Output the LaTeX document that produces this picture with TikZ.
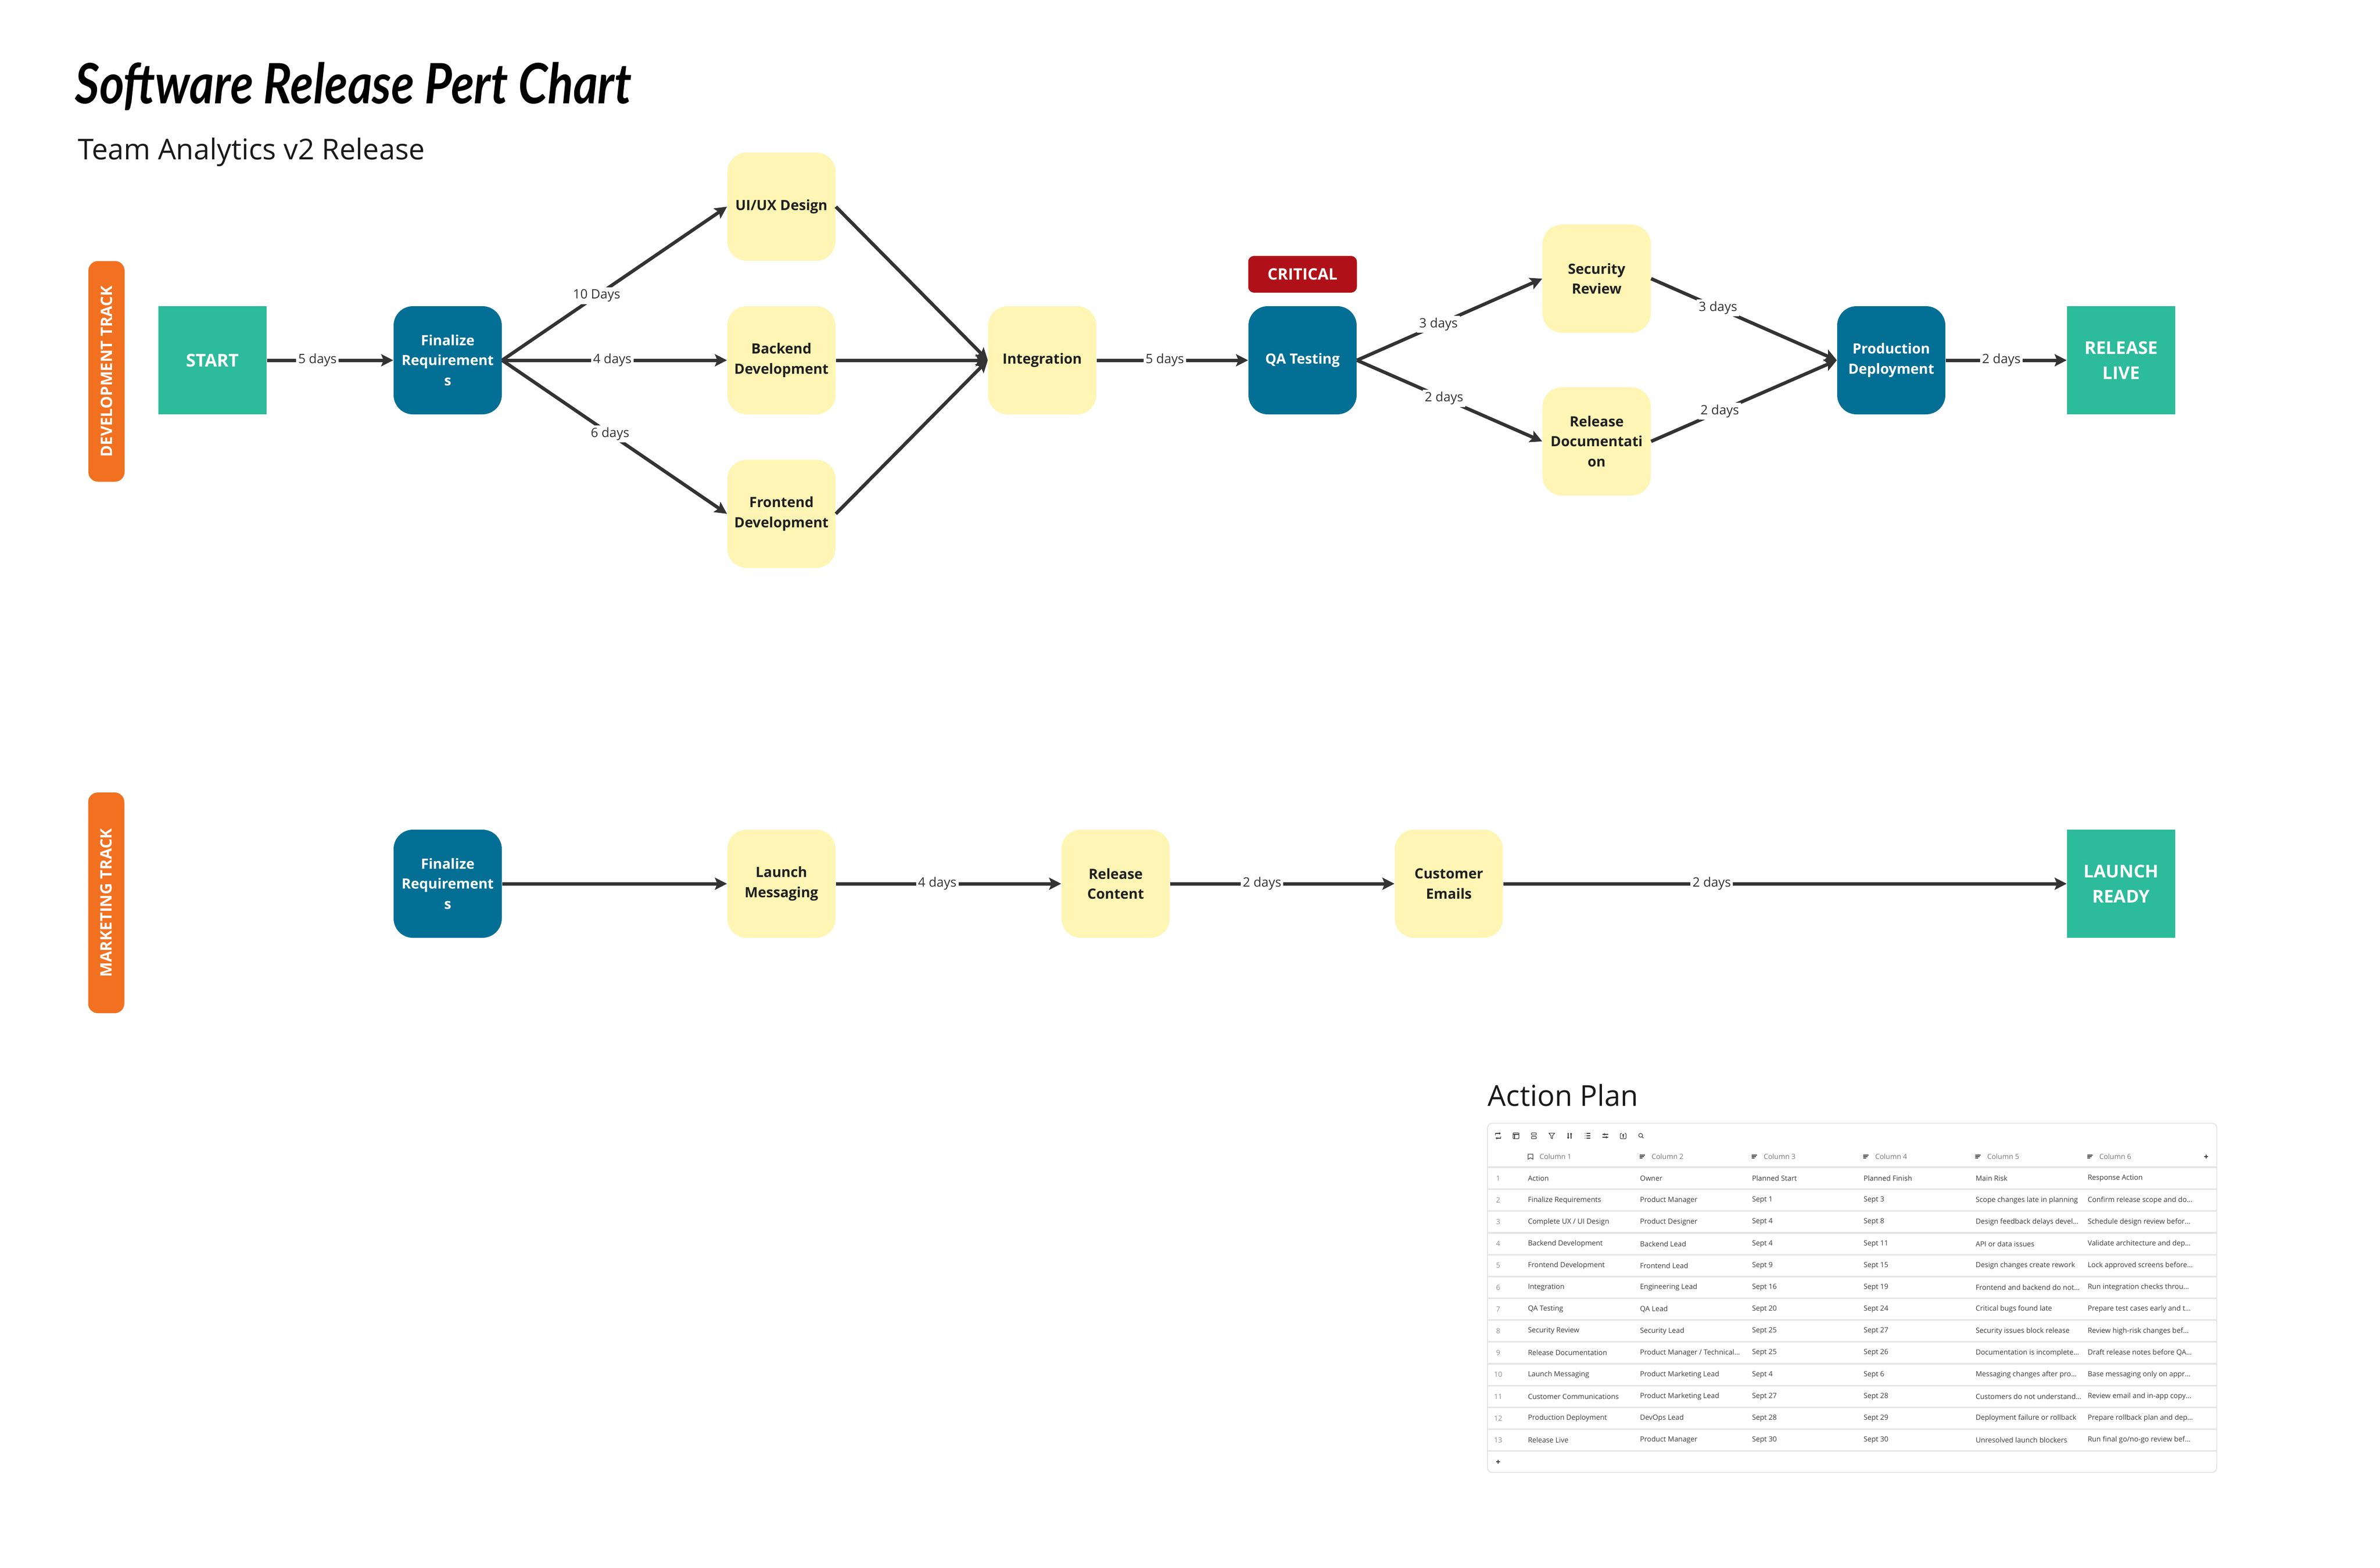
\documentclass[tikz,border=0pt]{standalone}
\usepackage{fontspec}
\usepackage{graphicx}
\setmainfont{Open Sans}
\newfontfamily\handfont{Lato}
\usepackage{tikz}
\usetikzlibrary{arrows.meta,positioning}

\definecolor{startgreen}{HTML}{2CBB9B}
\definecolor{taskblue}{HTML}{046F94}
\definecolor{taskyellow}{HTML}{FFF5B5}
\definecolor{trackorange}{HTML}{F27121}
\definecolor{critred}{HTML}{B01118}
\definecolor{edgegray}{HTML}{333333}
\definecolor{tablegray}{HTML}{3C3C3C}
\definecolor{numgray}{HTML}{8C8C8C}
\definecolor{linegray}{HTML}{E5E5E5}

\begin{document}
\begin{tikzpicture}[x=1cm,y=-1cm]
\path [use as bounding box] (0,0) rectangle (49.28,32.46);
\tikzstyle{taskbox} = [rectangle, rounded corners=0.4cm, fill=taskyellow, minimum width=2.24cm, minimum height=2.24cm, inner sep=0pt, align=center, text=black!88, font=\fontsize{8.3}{11.8}\selectfont\bfseries]
\tikzstyle{keybox} = [taskbox, fill=taskblue, text=white]
\tikzstyle{milestone} = [taskbox, sharp corners, fill=startgreen, text=white, font=\fontsize{10.4}{14.7}\selectfont\bfseries]
\tikzstyle{trackbar} = [rectangle, rounded corners=0.2cm, fill=trackorange, text=white, rotate=90, minimum width=4.57cm, minimum height=0.75cm, font=\fontsize{9.3}{11}\selectfont\bfseries]
\tikzstyle{badge} = [rectangle, rounded corners=0.12cm, fill=critred, text=white, minimum width=2.25cm, minimum height=0.76cm, font=\fontsize{9.3}{11}\selectfont\bfseries]
\tikzstyle{lab} = [fill=white, inner sep=1.2pt, text=edgegray, font=\fontsize{7.6}{9}\selectfont]
\tikzstyle{link} = [draw=edgegray, line width=2pt, -{Stealth[length=0.25cm,width=0.25cm,inset=0.05cm]}]
\tikzstyle{cell} = [anchor=west, inner sep=0pt, text=tablegray, font=\fontsize{4.2}{5}\selectfont]
\tikzstyle{rownum} = [cell, anchor=center, text=numgray]
\tikzstyle{colhead} = [cell, text=numgray!85!black]
\tikzstyle{icon} = [draw=tablegray, line width=0.35pt, line join=round]

% titles
\node[anchor=base west, inner sep=0pt] (title) at (1.55,2.14) {\handfont\bfseries\itshape\fontsize{27.8}{32}\selectfont\scalebox{1}[1.18]{Software Release Pert Chart}};
\node[anchor=base west, inner sep=0pt, text=black!90] (subtitle) at (1.61,3.30) {\fontsize{16.9}{20}\selectfont Team Analytics v2 Release};

% tracks
\node[trackbar] (devtrack) at (2.205,7.69) {DEVELOPMENT TRACK};
\node[trackbar] (mkttrack) at (2.20,18.695) {MARKETING TRACK};

% development track
\node[milestone] (start) at (4.40,7.46) {START};
\node[keybox] (req) at (9.27,7.46) {Finalize\\Requirement\\s};
\node[taskbox] (uiux) at (16.18,4.28) {UI/UX Design};
\node[taskbox] (backend) at (16.18,7.46) {Backend\\Development};
\node[taskbox] (frontend) at (16.18,10.64) {Frontend\\Development};
\node[taskbox] (integ) at (21.58,7.46) {Integration};
\node[keybox] (qa) at (26.97,7.46) {QA Testing};
\node[badge] (crit) at (26.97,5.68) {CRITICAL};
\node[taskbox] (security) at (33.06,5.77) {Security\\Review};
\node[taskbox] (reldoc) at (33.06,9.14) {Release\\Documentati\\on};
\node[keybox] (prod) at (39.16,7.46) {Production\\Deployment};
\node[milestone] (live) at (43.92,7.46) {RELEASE\\LIVE};

\draw[link] (start.east) -- node[lab,pos=.4] (d1) {5 days} (req.west);
\draw[link] (req.east) -- node[lab,pos=.42] (d2) {10 Days} (uiux.west);
\draw[link] (req.east) -- node[lab,pos=.49] (d3) {4 days} (backend.west);
\draw[link] (req.east) -- node[lab,pos=.48] (d4) {6 days} (frontend.west);
\draw[link] (uiux.east) -- (integ.west);
\draw[link] (backend.east) -- (integ.west);
\draw[link] (frontend.east) -- (integ.west);
\draw[link] (integ.east) -- node[lab,pos=.45] (d5) {5 days} (qa.west);
\draw[link] (qa.east) -- node[lab,pos=.44] (d6) {3 days} (security.west);
\draw[link] (qa.east) -- node[lab,pos=.47] (d7) {2 days} (reldoc.west);
\draw[link] (security.east) -- node[lab,pos=.36] (d8) {3 days} (prod.west);
\draw[link] (reldoc.east) -- node[lab,pos=.37] (d9) {2 days} (prod.west);
\draw[link] (prod.east) -- node[lab,pos=.46] (d10) {2 days} (live.west);

% marketing track
\node[keybox] (mreq) at (9.27,18.30) {Finalize\\Requirement\\s};
\node[taskbox] (launch) at (16.18,18.30) {Launch\\Messaging};
\node[taskbox] (content) at (23.10,18.30) {Release\\Content};
\node[taskbox] (emails) at (30.00,18.30) {Customer\\Emails};
\node[milestone] (ready) at (43.92,18.30) {LAUNCH\\READY};

\draw[link] (mreq.east) -- (launch.west);
\draw[link] (launch.east) -- node[lab,pos=.45] (m1) {4 days} (content.west);
\draw[link] (content.east) -- node[lab,pos=.41] (m2) {2 days} (emails.west);
\draw[link] (emails.east) -- node[lab,pos=.37] (m3) {2 days} (ready.west);

% action plan table
\node[anchor=base west, inner sep=0pt, text=black!90] (plantitle) at (30.80,22.90) {\fontsize{17}{20}\selectfont Action Plan};
\draw[linegray, line width=0.6pt, rounded corners=0.1cm] (30.80,23.26) rectangle (45.90,30.49);
\draw[linegray, line width=0.9pt] (30.80,24.17) -- (45.90,24.17);

% toolbar
\draw[icon, -{To[length=0.03cm,width=0.04cm]}] (30.965,23.51) -- (30.965,23.47) -- (31.07,23.47);
\draw[icon, -{To[length=0.03cm,width=0.04cm]}] (31.075,23.53) -- (31.075,23.57) -- (30.97,23.57);
\draw[icon, rounded corners=0.01cm] (31.33,23.46) rectangle (31.45,23.58);
\draw[icon] (31.33,23.49) -- (31.45,23.49) (31.36,23.49) -- (31.36,23.58);
\draw[icon, rounded corners=0.01cm] (31.71,23.46) rectangle (31.81,23.505);
\draw[icon, rounded corners=0.01cm] (31.71,23.535) rectangle (31.81,23.58);
\draw[icon] (32.07,23.465) -- (32.19,23.465) -- (32.145,23.52) -- (32.145,23.58) -- (32.115,23.565) -- (32.115,23.52) -- cycle;
\draw[icon, -{To[length=0.03cm,width=0.04cm]}] (32.47,23.46) -- (32.47,23.58);
\draw[icon, -{To[length=0.03cm,width=0.04cm]}] (32.53,23.58) -- (32.53,23.46);
\foreach \l in {23.47,23.52,23.57} {
  \fill[tablegray] (32.82,\l) circle (0.008);
  \draw[icon] (32.845,\l) -- (32.925,\l);
}
\draw[icon] (33.18,23.49) -- (33.30,23.49) (33.18,23.55) -- (33.30,23.55);
\filldraw[icon, fill=white] (33.22,23.49) circle (0.016) (33.26,23.55) circle (0.016);
\draw[icon, rounded corners=0.015cm] (33.58,23.47) -- (33.55,23.47) -- (33.55,23.58) -- (33.67,23.58) -- (33.67,23.47) -- (33.64,23.47);
\draw[icon, -{To[length=0.03cm,width=0.04cm]}] (33.61,23.56) -- (33.61,23.48);
\draw[icon] (33.97,23.51) circle (0.04) (33.998,23.538) -- (34.03,23.57);

% column heads
\foreach \k/\cx in {1/31.63, 2/33.95, 3/36.27, 4/38.58, 5/40.90, 6/43.22} {
  \ifnum\k=1
    \draw[icon] (\cx+0.01,23.90) -- (\cx+0.01,24.005) -- (\cx+0.06,23.975) -- (\cx+0.11,24.005) -- (\cx+0.11,23.90) -- cycle;
  \else
    \draw[icon] (\cx,23.92) -- (\cx+0.11,23.92) (\cx,23.95) -- (\cx+0.09,23.95) (\cx,23.98) -- (\cx+0.06,23.98);
  \fi
  \node[colhead] (h\k) at (\cx+0.24,23.95) {Column \k};
}
\draw[icon] (45.64,23.95) -- (45.72,23.95) (45.68,23.91) -- (45.68,23.99);

% rows
\foreach \n/\cola/\colb/\colc/\cold/\cole/\colf in {
  1/Action/Owner/Planned Start/Planned Finish/Main Risk/Response Action,
  2/Finalize Requirements/Product Manager/Sept 1/Sept 3/Scope changes late in planning/Confirm release scope and do…,
  3/{Complete UX / UI Design}/Product Designer/Sept 4/Sept 8/Design feedback delays devel…/Schedule design review befor…,
  4/Backend Development/Backend Lead/Sept 4/Sept 11/API or data issues/Validate architecture and dep…,
  5/Frontend Development/Frontend Lead/Sept 9/Sept 15/Design changes create rework/Lock approved screens before…,
  6/Integration/Engineering Lead/Sept 16/Sept 19/Frontend and backend do not…/Run integration checks throu…,
  7/QA Testing/QA Lead/Sept 20/Sept 24/Critical bugs found late/Prepare test cases early and t…,
  8/Security Review/Security Lead/Sept 25/Sept 27/Security issues block release/Review high-risk changes bef…,
  9/Release Documentation/{Product Manager / Technical…}/Sept 25/Sept 26/Documentation is incomplete…/Draft release notes before QA…,
  10/Launch Messaging/Product Marketing Lead/Sept 4/Sept 6/Messaging changes after pro…/Base messaging only on appr…,
  11/Customer Communications/Product Marketing Lead/Sept 27/Sept 28/Customers do not understand…/Review email and in-app copy…,
  12/Production Deployment/DevOps Lead/Sept 28/Sept 29/Deployment failure or rollback/Prepare rollback plan and dep…,
  13/Release Live/Product Manager/Sept 30/Sept 30/Unresolved launch blockers/{Run final go/no-go review bef…}} {
  \pgfmathsetmacro\ry{24.40+(\n-1)*0.4517}
  \node[rownum] (n\n) at (31.02,\ry) {\n};
  \node[cell] (a\n) at (31.63,\ry) {\cola};
  \node[cell] (b\n) at (33.95,\ry) {\colb};
  \node[cell] (c\n) at (36.27,\ry) {\colc};
  \node[cell] (e\n) at (38.58,\ry) {\cold};
  \node[cell] (f\n) at (40.90,\ry) {\cole};
  \node[cell] (g\n) at (43.22,\ry) {\colf};
  \draw[linegray, line width=0.9pt] (30.80,\ry+0.2258) -- (45.90,\ry+0.2258);
}
\draw[icon] (30.98,30.27) -- (31.06,30.27) (31.02,30.23) -- (31.02,30.31);
\end{tikzpicture}
\end{document}
